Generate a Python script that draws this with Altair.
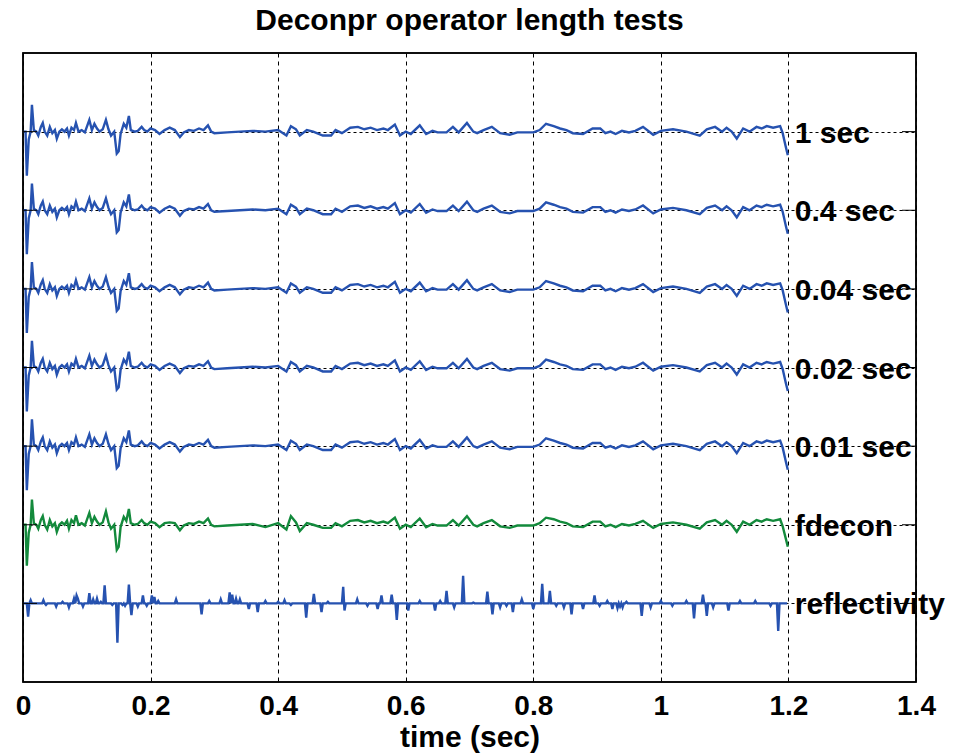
import altair as alt
import numpy as np
import pandas as pd

# ---------------- data ----------------
trace_names = ["1 sec", "0.4 sec", "0.04 sec", "0.02 sec", "0.01 sec", "fdecon", "reflectivity"]
trace_offsets = [0, -1, -2, -3, -4, -5, -6]
trace_colors = ["#2652b0", "#2652b0", "#2652b0", "#2652b0", "#2652b0", "#138a3c", "#2652b0"]

# deconvolved trace (shape is the same for all operator lengths), time (s) / amplitude
decon_t = [0.000, 0.004, 0.006, 0.009, 0.012, 0.014, 0.017, 0.021, 0.024, 0.028,
           0.031, 0.034, 0.038, 0.042, 0.046, 0.050, 0.053, 0.057, 0.061, 0.065,
           0.069, 0.072, 0.076, 0.080, 0.083, 0.087, 0.092, 0.097, 0.104, 0.108,
           0.112, 0.116, 0.120, 0.125, 0.130, 0.134, 0.138, 0.143, 0.147, 0.150,
           0.153, 0.158, 0.162, 0.166, 0.169, 0.175, 0.180, 0.186, 0.190, 0.195,
           0.200, 0.207, 0.214, 0.222, 0.230, 0.238, 0.246, 0.252, 0.260, 0.268,
           0.276, 0.283, 0.290, 0.295, 0.300, 0.320, 0.340, 0.360, 0.380, 0.400,
           0.413, 0.420, 0.428, 0.434, 0.445, 0.455, 0.470, 0.483, 0.490, 0.500,
           0.513, 0.525, 0.535, 0.545, 0.555, 0.565, 0.572, 0.583, 0.591, 0.600,
           0.608, 0.622, 0.632, 0.642, 0.650, 0.664, 0.674, 0.683, 0.696, 0.706,
           0.712, 0.722, 0.735, 0.748, 0.763, 0.775, 0.800, 0.810, 0.820, 0.832,
           0.842, 0.852, 0.862, 0.878, 0.893, 0.905, 0.913, 0.921, 0.929, 0.939,
           0.950, 0.960, 0.972, 0.988, 1.000, 1.019, 1.040, 1.061, 1.072, 1.085,
           1.096, 1.103, 1.111, 1.119, 1.129, 1.139, 1.150, 1.158, 1.166, 1.176,
           1.187, 1.191, 1.196, 1.199]
decon_a = [0.00, 0.00, -0.56, -0.10, 0.00, 0.34, 0.02, 0.00, -0.05, 0.06,
           0.11, 0.00, -0.05, 0.06, -0.02, 0.02, -0.09, 0.00, 0.03, 0.00,
           0.04, -0.05, 0.05, 0.02, 0.11, 0.00, 0.02, -0.01, 0.15, 0.02,
           0.10, 0.04, 0.00, 0.03, 0.15, 0.03, -0.05, 0.00, -0.28, -0.25,
           -0.03, 0.10, 0.05, 0.20, 0.02, 0.00, 0.01, 0.06, 0.02, 0.00,
           0.04, 0.02, -0.03, 0.02, 0.05, 0.02, -0.07, -0.01, 0.02, 0.01,
           0.04, 0.02, 0.08, 0.00, -0.02, -0.01, 0.00, 0.01, 0.00, 0.02,
           -0.05, 0.07, 0.03, -0.05, 0.02, 0.00, -0.05, -0.05, 0.02, -0.02,
           0.05, 0.06, 0.03, 0.05, 0.02, 0.04, 0.02, 0.09, -0.05, 0.00,
           -0.03, 0.08, -0.03, 0.01, -0.01, -0.01, 0.06, -0.01, 0.11, 0.00,
           -0.02, 0.02, 0.06, -0.02, -0.04, -0.01, -0.01, 0.02, 0.10, 0.07,
           0.04, 0.02, -0.02, -0.03, 0.04, 0.04, -0.02, 0.00, -0.03, 0.01,
           -0.01, 0.01, 0.06, -0.04, 0.01, 0.03, 0.00, -0.05, 0.03, 0.06,
           0.00, 0.05, 0.00, -0.09, 0.04, 0.00, 0.06, 0.04, 0.07, 0.05,
           0.07, -0.02, -0.20, -0.30]
fdecon_a = [0.00, 0.00, -0.52, -0.10, 0.00, 0.32, 0.02, 0.00, -0.05, 0.06,
            0.11, 0.00, -0.06, 0.06, -0.02, 0.02, -0.09, 0.00, 0.03, 0.00,
            0.05, -0.05, 0.06, 0.02, 0.12, 0.00, 0.02, -0.01, 0.15, 0.02,
            0.10, 0.04, 0.00, 0.03, 0.17, 0.03, -0.05, 0.00, -0.32, -0.28,
            -0.03, 0.10, 0.05, 0.20, 0.02, 0.00, 0.01, 0.06, 0.02, 0.00,
            0.04, 0.02, -0.03, 0.02, 0.03, 0.02, -0.07, -0.01, 0.02, 0.01,
            0.04, 0.02, 0.08, 0.00, -0.02, -0.01, 0.00, 0.01, -0.03, 0.02,
            -0.06, 0.11, 0.03, -0.08, 0.02, 0.00, -0.04, -0.04, 0.02, -0.02,
            0.05, 0.06, 0.03, 0.05, 0.02, 0.04, 0.02, 0.09, -0.05, 0.00,
            -0.03, 0.08, -0.03, 0.01, -0.01, -0.01, 0.06, -0.01, 0.11, 0.00,
            -0.02, 0.02, 0.06, -0.02, -0.04, -0.01, -0.01, 0.02, 0.09, 0.07,
            0.04, 0.02, -0.02, -0.03, 0.04, 0.04, -0.02, 0.00, -0.03, 0.01,
            -0.01, 0.01, 0.05, -0.04, 0.01, 0.03, 0.00, -0.05, 0.03, 0.06,
            0.00, 0.05, 0.00, -0.09, 0.04, 0.00, 0.06, 0.04, 0.07, 0.05,
            0.07, -0.02, -0.18, -0.28]

# reflectivity spikes (time s, amplitude), sampled at 2 ms
refl_dt = 0.002
refl_end = 1.2
refl_t = [0.008, 0.012, 0.031, 0.036, 0.053, 0.062, 0.072, 0.080, 0.083, 0.086,
          0.094, 0.105, 0.110, 0.115, 0.122, 0.129, 0.140, 0.147, 0.155, 0.160,
          0.166, 0.170, 0.181, 0.188, 0.194, 0.202, 0.206, 0.212, 0.240, 0.279,
          0.292, 0.310, 0.323, 0.328, 0.334, 0.340, 0.354, 0.368, 0.380, 0.400,
          0.410, 0.420, 0.445, 0.455, 0.468, 0.478, 0.502, 0.505, 0.523, 0.541,
          0.557, 0.562, 0.578, 0.586, 0.604, 0.622, 0.646, 0.654, 0.664, 0.675,
          0.690, 0.706, 0.729, 0.737, 0.748, 0.758, 0.769, 0.782, 0.799, 0.815,
          0.826, 0.837, 0.847, 0.860, 0.878, 0.897, 0.905, 0.915, 0.923, 0.931,
          0.936, 0.941, 0.946, 0.970, 0.983, 0.999, 1.019, 1.040, 1.052, 1.066,
          1.071, 1.082, 1.106, 1.124, 1.148, 1.171, 1.185]
refl_a = [-0.17, 0.04, 0.04, -0.02, -0.04, 0.02, -0.05, 0.06, 0.10, 0.06,
          -0.04, 0.13, 0.05, 0.06, 0.02, 0.23, -0.02, -0.50, -0.02, -0.03,
          0.24, -0.15, -0.04, 0.10, -0.03, 0.10, 0.08, 0.03, 0.05, -0.14,
          0.03, 0.05, 0.14, 0.11, 0.06, 0.05, -0.07, -0.11, 0.03, 0.02,
          0.04, -0.02, -0.18, 0.12, -0.11, 0.02, 0.21, -0.09, 0.05, -0.03,
          -0.07, 0.10, 0.11, -0.21, -0.09, 0.03, -0.09, 0.03, 0.16, -0.05,
          0.35, 0.01, 0.15, -0.14, -0.05, -0.03, -0.11, 0.05, -0.07, 0.25,
          0.16, -0.03, -0.05, -0.14, -0.07, 0.10, -0.03, 0.03, -0.07, -0.06,
          -0.04, -0.05, 0.02, -0.16, -0.05, 0.03, -0.03, 0.03, -0.19, 0.11,
          -0.16, -0.05, -0.09, 0.03, 0.03, -0.03, -0.35]

x_ticks = [0, 0.2, 0.4, 0.6, 0.8, 1.0, 1.2, 1.4]
label_t = 1.21

# ---------------- build table ----------------
rows = []
for name, off in zip(trace_names[:5], trace_offsets[:5]):
    for t, a in zip(decon_t, decon_a):
        rows.append({"trace": name, "t": t, "y": a + off})
for t, a in zip(decon_t, fdecon_a):
    rows.append({"trace": "fdecon", "t": t, "y": a + trace_offsets[5]})
decon_df = pd.DataFrame(rows)

n_refl = int(round(refl_end / refl_dt)) - 1
refl = np.zeros(n_refl + 1)
for t, a in zip(refl_t, refl_a):
    refl[int(round(t / refl_dt))] = a
refl_df = pd.DataFrame({
    "trace": "reflectivity",
    "t": [round(i * refl_dt, 4) for i in range(len(refl))],
    "y": refl + trace_offsets[6],
})

labels_df = pd.DataFrame({"name": trace_names, "y": trace_offsets, "t": [label_t] * len(trace_names)})
base_df = pd.DataFrame({"y": trace_offsets})

W, H = 893, 629
FONT = "Liberation Sans"

xscale = alt.Scale(domain=[0, 1.4], nice=False, zero=False)
yscale = alt.Scale(domain=[-7, 1], nice=False, zero=False)
cscale = alt.Scale(domain=trace_names, range=trace_colors)

x_enc = alt.X("t:Q", scale=xscale,
              axis=alt.Axis(values=x_ticks, format="~g", title="time (sec)", grid=True,
                            gridDash=[4, 4], gridColor="black", gridOpacity=1, gridWidth=1,
                            ticks=False, domain=False, labelFont=FONT, labelFontSize=28,
                            labelFontWeight="bold", labelColor="black", labelPadding=10,
                            titleFont=FONT, titleFontSize=30, titleFontWeight="bold",
                            titleColor="black", titlePadding=2, labelFlush=False))
y_enc = alt.Y("y:Q", scale=yscale,
              axis=alt.Axis(values=trace_offsets, labels=False, ticks=False, domain=False,
                            title=None, grid=True, gridDash=[3, 3], gridColor="black",
                            gridOpacity=1, gridWidth=1))

decon_lines = alt.Chart(decon_df).mark_line(strokeWidth=2.4).encode(
    x=x_enc, y=y_enc, detail="trace:N",
    color=alt.Color("trace:N", scale=cscale, legend=None),
)
refl_line = alt.Chart(refl_df).mark_line(strokeWidth=2.4).encode(
    x=alt.X("t:Q", scale=xscale), y=alt.Y("y:Q", scale=yscale),
    color=alt.Color("trace:N", scale=cscale, legend=None),
)

texts = alt.Chart(labels_df).mark_text(align="left", baseline="middle", font=FONT,
                                       fontSize=30, fontWeight="bold", color="black", dy=2).encode(
    x=alt.X("t:Q", scale=xscale),
    y=alt.Y("y:Q", scale=yscale),
    text="name:N",
)

right_ticks = alt.Chart(base_df).mark_rule(color="black", strokeWidth=1).encode(
    x=alt.value(W - 14), x2=alt.value(W), y=alt.Y("y:Q", scale=yscale)
)
left_ticks = alt.Chart(base_df).mark_rule(color="black", strokeWidth=1).encode(
    x=alt.value(0), x2=alt.value(14), y=alt.Y("y:Q", scale=yscale)
)
frame = alt.Chart(base_df.head(1)).mark_rect(fill=None, stroke="black", strokeWidth=1.5).encode(
    x=alt.value(0), x2=alt.value(W), y=alt.value(0), y2=alt.value(H)
)

chart = alt.layer(decon_lines, refl_line, right_ticks, left_ticks, texts, frame).properties(
    width=W, height=H,
    title=alt.TitleParams("Deconpr operator length tests", font=FONT, fontSize=30,
                          fontWeight="bold", color="black", anchor="middle", offset=16),
    autosize=alt.AutoSizeParams(type="none"),
    padding={"left": 23, "top": 53, "right": 955 - 23 - W, "bottom": 755 - 53 - H},
    background="white",
).configure_view(stroke="black", strokeWidth=1.5)

chart.save("out.html", embed_options={"renderer": "svg", "actions": False})
